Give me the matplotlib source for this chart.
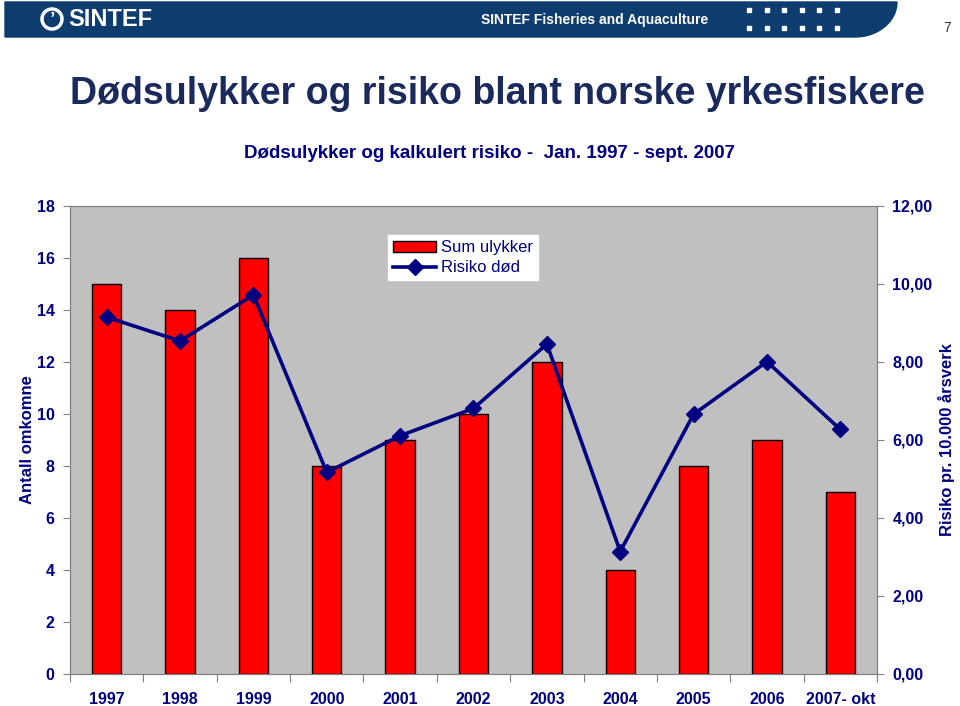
import numpy as np
import matplotlib.pyplot as plt
from matplotlib.patches import Polygon, Circle
from matplotlib.ticker import FuncFormatter, FixedLocator

years = ["1997", "1998", "1999", "2000", "2001", "2002", "2003", "2004", "2005", "2006", "2007- okt"]
sum_ulykker = [15, 14, 16, 8, 9, 10, 12, 4, 8, 9, 7]
risiko_dod = [9.15, 8.54, 9.72, 5.17, 6.11, 6.81, 8.46, 3.14, 6.66, 8.01, 6.27]

navy = "#000080"
title_col = "#1b2a5c"

plt.rcParams['font.family'] = ['Liberation Sans', 'DejaVu Sans']

fig = plt.figure(figsize=(9.6, 7.06), dpi=100)
W, H = 960, 706

# header band
hdr = fig.add_axes([0, 0, 1, 1], zorder=-1)
hdr.set_xlim(0, W)
hdr.set_ylim(H, 0)
hdr.axis("off")
t = np.linspace(0, np.pi / 2, 20)
curve = [(855 + 42 * np.sin(a), 37 - 35 * (1 - np.cos(a))) for a in t]
pts = [(5, 2), (897, 2)] + curve[::-1] + [(5, 37)]
hdr.add_patch(Polygon(pts, closed=True, color="#0d3c6e"))
hdr.add_patch(Circle((52, 19), 10, fill=False, ec="white", lw=2.5))
hdr.text(52, 20, "\u2019", color="white", fontsize=14, fontweight="bold", ha="center", va="center")
hdr.text(68, 20, "SINTEF", color="white", fontsize=17, fontweight="bold", va="center")
hdr.text(595, 20, "SINTEF Fisheries and Aquaculture", color="white", fontsize=10,
         fontweight="bold", ha="center", va="center")
for row in [10, 28]:
    for k in range(6):
        hdr.add_patch(plt.Rectangle((747 + k * 17.5, row - 2), 4, 4, color="white"))
hdr.text(947, 28, "7", fontsize=10, ha="center", va="center", color="#333333")

fig.text(497 / W, 1 - 94 / H, "Dødsulykker og risiko blant norske yrkesfiskere",
         fontsize=27, fontweight="bold", color=title_col, ha="center", va="center")
fig.text(490 / W, 1 - 154 / H, "Dødsulykker og kalkulert risiko -  Jan. 1997 - sept. 2007",
         fontsize=13.5, fontweight="bold", color=navy, ha="center", va="center")

ax = fig.add_axes([70 / W, 32 / H, 807 / W, 468 / H])
ax.set_facecolor("#c0c0c0")
x = np.arange(len(years))
ax.bar(x, sum_ulykker, width=0.4, color="#ff0000", edgecolor="black", linewidth=1,
       label="Sum ulykker", zorder=2)
ax.set_xlim(-0.5, len(years) - 0.5)
ax.set_ylim(0, 18)
ax.set_yticks(range(0, 19, 2))
ax.xaxis.set_major_locator(FixedLocator(np.arange(-0.5, len(years), 1)))
ax.xaxis.set_major_formatter(FuncFormatter(lambda v, p: ""))
ax.set_xticks(x, minor=True)
ax.set_xticklabels(years, minor=True)
ax.tick_params(axis="x", which="minor", length=0, pad=13)
ax.tick_params(axis="x", which="major", length=6, color="#808080")
ax.tick_params(axis="y", length=5, color="#808080", pad=6)
for lbl in ax.get_xticklabels(minor=True) + ax.get_yticklabels():
    lbl.set_fontweight("bold")
    lbl.set_color(navy)
    lbl.set_fontsize(11.5)
for s in ax.spines.values():
    s.set_color("#808080")
ax.set_ylabel("Antall omkomne", fontsize=12, fontweight="bold", color=navy, labelpad=1)

ax2 = ax.twinx()
ax2.plot(x, risiko_dod, color=navy, lw=2.6, marker="D", markersize=8, label="Risiko død", zorder=3)
ax2.set_ylim(0, 12)
ax2.set_yticks(range(0, 13, 2))
ax2.yaxis.set_major_formatter(FuncFormatter(lambda v, p: f"{v:.2f}".replace(".", ",")))
ax2.tick_params(axis="y", length=5, color="#808080", pad=6)
for lbl in ax2.get_yticklabels():
    lbl.set_fontweight("bold")
    lbl.set_color(navy)
    lbl.set_fontsize(11.5)
for s in ax2.spines.values():
    s.set_color("#808080")
ax2.set_ylabel("Risiko pr. 10.000 årsverk", fontsize=12, fontweight="bold", color=navy, labelpad=4)

h1, l1 = ax.get_legend_handles_labels()
h2, l2 = ax2.get_legend_handles_labels()
leg = ax2.legend(h1 + h2, l1 + l2, loc="upper center", bbox_to_anchor=(0.487, 0.955),
                 frameon=True, fancybox=False, framealpha=1, edgecolor="white",
                 fontsize=12, handlelength=2.6, borderpad=0.3, labelspacing=0.3,
                 handletextpad=0.3)
for txt in leg.get_texts():
    txt.set_color(navy)

fig.savefig("out.png", dpi=100)
